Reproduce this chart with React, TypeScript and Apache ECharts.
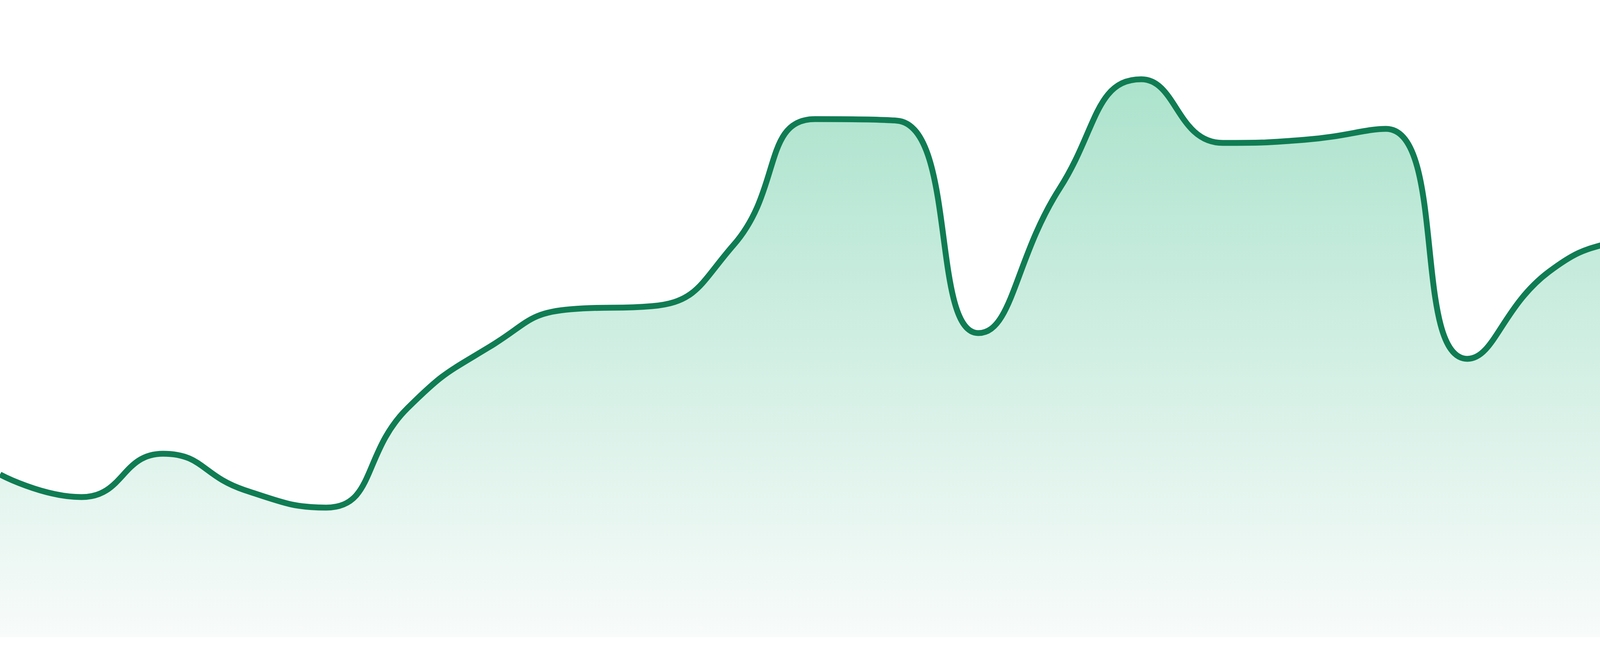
import React, { useEffect, useRef } from "react";
import * as echarts from "echarts";

const categories: string[] = [
  "1", "2", "3", "4", "5", "6", "7", "8", "9", "10", "11", "12",
  "13", "14", "15", "16", "17", "18", "19", "20", "21", "22", "23", "24",
];

const values: number[] = [
  25.55, 22.0, 28.8, 23.1, 20.35, 35.97, 45.53, 51.47, 51.96, 61.58, 81.31, 81.07,
  47.73, 70.47, 87.56, 77.57, 78.06, 79.78, 43.69, 57.35, 62.87, 65.63, 61.09, 60.6,
];

const LINE_COLOR = "#107c54";
const FILL_TOP = "rgb(172,227,205)";
const FILL_BOTTOM = "rgb(248,251,250)";

export default function App() {
  const ref = useRef<HTMLDivElement>(null);

  useEffect(() => {
    document.body.style.margin = "0";
    if (!ref.current) return;
    const chart = echarts.init(ref.current, null, { renderer: "svg" });
    chart.setOption({
      animation: false,
      backgroundColor: "#ffffff",
      grid: { left: 0, right: 0, top: 0, bottom: 48, containLabel: false },
      xAxis: {
        type: "category",
        data: categories,
        boundaryGap: false,
        show: false,
      },
      yAxis: {
        type: "value",
        min: 0,
        max: 100,
        show: false,
        splitLine: { show: false },
      },
      series: [
        {
          type: "line",
          data: values,
          smooth: true,
          showSymbol: false,
          symbol: "none",
          lineStyle: { width: 15, color: LINE_COLOR },
          areaStyle: {
            opacity: 1,
            color: new echarts.graphic.LinearGradient(0, 0, 0, 1, [
              { offset: 0, color: FILL_TOP },
              { offset: 1, color: FILL_BOTTOM },
            ]),
          },
        },
      ],
    });
    return () => chart.dispose();
  }, []);

  return (
    <div
      ref={ref}
      style={{ position: "fixed", left: 0, top: 0, width: 4800, height: 1680 }}
    />
  );
}
